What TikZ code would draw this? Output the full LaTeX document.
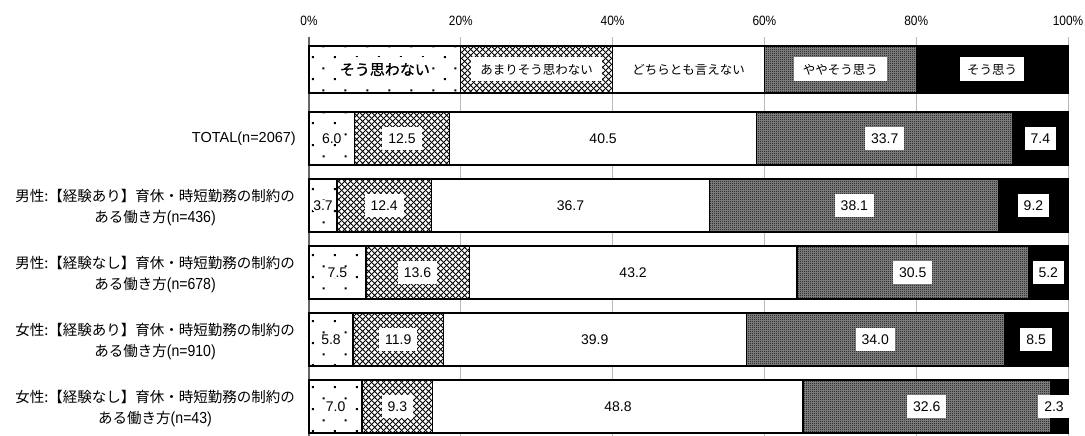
\documentclass[tikz,border=0pt]{standalone}
\usepackage{fontspec}
\setmainfont{Noto Sans CJK JP}
\newfontfamily\lat{Liberation Sans}
\newfontfamily\latn[FakeStretch=0.88]{Liberation Sans}
\newfontfamily\jpb[FakeBold=1.0]{Noto Sans CJK JP}
\usetikzlibrary{patterns}

\pgfdeclarepatternformonly{sparsedots}{\pgfqpoint{0pt}{0pt}}{\pgfqpoint{22pt}{22pt}}{\pgfqpoint{22pt}{22pt}}{%
 \pgfpathrectangle{\pgfqpoint{4pt}{4pt}}{\pgfqpoint{2pt}{2pt}}%
 \pgfpathrectangle{\pgfqpoint{15pt}{15pt}}{\pgfqpoint{2pt}{2pt}}%
 \pgfusepath{fill}}
\pgfdeclarepatternformonly{xdiamond}{\pgfqpoint{0pt}{0pt}}{\pgfqpoint{6pt}{6pt}}{\pgfqpoint{6pt}{6pt}}{%
 \pgfsetlinewidth{1.0pt}%
 \pgfpathmoveto{\pgfqpoint{-1pt}{-1pt}}\pgfpathlineto{\pgfqpoint{7pt}{7pt}}%
 \pgfpathmoveto{\pgfqpoint{-1pt}{7pt}}\pgfpathlineto{\pgfqpoint{7pt}{-1pt}}%
 \pgfusepath{stroke}}
\pgfdeclarepatternformonly{finecheck}{\pgfqpoint{0pt}{0pt}}{\pgfqpoint{2pt}{2pt}}{\pgfqpoint{2pt}{2pt}}{%
 \pgfpathrectangle{\pgfqpoint{0pt}{0pt}}{\pgfqpoint{1pt}{1pt}}%
 \pgfpathrectangle{\pgfqpoint{1pt}{1pt}}{\pgfqpoint{1pt}{1pt}}%
 \pgfusepath{fill}}

\newcommand\segs[6]{%
 \pgfmathsetmacro\ca{309+7.59*#3}%
 \pgfmathsetmacro\cb{\ca+7.59*#4}%
 \pgfmathsetmacro\cc{\cb+7.59*#5}%
 \pgfmathsetmacro\cd{\cc+7.59*#6}%
 \pgfmathsetmacro\yt{#1}%
 \pgfmathsetmacro\yb{#1+#2}%
 \pgfmathsetmacro\ym{#1+#2/2}%
 \pgfmathsetmacro\ma{(309+\ca)/2}%
 \pgfmathsetmacro\mb{(\ca+\cb)/2}%
 \pgfmathsetmacro\mc{(\cb+\cc)/2}%
 \pgfmathsetmacro\md{(\cc+\cd)/2}%
 \pgfmathsetmacro\me{min((\cd+1068)/2,1054)}%
 \fill[white] (309,\yt) rectangle (1068,\yb);
 \fill[pattern=sparsedots] (309,\yt) rectangle (\ca,\yb);
 \fill[pattern=xdiamond] (\ca,\yt) rectangle (\cb,\yb);
 \fill[black!45] (\cc,\yt) rectangle (\cd,\yb);
 \fill[pattern=finecheck] (\cc,\yt) rectangle (\cd,\yb);
 \fill[black] (\cd,\yt) rectangle (1068,\yb);
 \draw[seg] (309,\yt) rectangle (1068,\yb)
   (\ca,\yt) -- (\ca,\yb) (\cb,\yt) -- (\cb,\yb)
   (\cc,\yt) -- (\cc,\yb) (\cd,\yt) -- (\cd,\yb);
}
\newcommand\valrow[7]{%
 \segs{#2}{53}{#3}{#4}{#5}{#6}%
 \node[dlab] (#1a) at (\ma,\ym) {#3};
 \node[vlab] (#1b) at (\mb,\ym) {#4};
 \node[vlab,fill=none] (#1c) at (\mc,\ym) {#5};
 \node[vlab] (#1d) at (\md,\ym) {#6};
 \node[vlab] (#1e) at (\me,\ym) {#7};
}

\begin{document}
\begin{tikzpicture}[x=1pt,y=-1pt,
 seg/.style={draw=black,line width=1.3pt},
 vlab/.style={fill=white,font=\lat\fontsize{14}{16}\selectfont,inner xsep=6pt,inner ysep=0pt,minimum height=23pt},
 dlab/.style={fill=white,font=\lat\fontsize{14}{16}\selectfont,inner sep=0.5pt},
 leg/.style={fill=white,font=\fontsize{12.5}{14}\selectfont,inner xsep=9pt,inner ysep=0pt,minimum height=24pt},
 rlab/.style={anchor=east,align=center,inner sep=0pt,font=\fontsize{14.5}{21}\selectfont},
 rn/.style={},
 axl/.style={font=\latn\fontsize{13.5}{15}\selectfont,inner sep=0pt},
 gridl/.style={draw=gray!55,line width=0.9pt}]
\useasboundingbox (0,0) rectangle (1085,436);

% axis labels and grid
\foreach \k/\t in {0/0\%,1/20\%,2/40\%,3/60\%,4/80\%,5/100\%}{
  \node[axl] (ax\k) at ({309+151.8*\k},21) {\t};
}
\foreach \k in {1,...,5}{
  \draw[gridl] ({309+151.8*\k},37) -- ({309+151.8*\k},436);
}
\draw[draw=gray!80!black,line width=2pt] (309,37) -- (309,436);

% legend
\segs{46}{47}{20}{20}{20}{20}
\node[leg,inner xsep=2pt,font=\jpb\fontsize{15}{17}\selectfont] (lg1) at (\ma,\ym) {そう思わない};
\node[leg] (lg2) at (\mb,\ym) {あまりそう思わない};
\node[leg,fill=none] (lg3) at (\mc,\ym) {どちらとも言えない};
\node[leg] (lg4) at (\md,\ym) {ややそう思う};
\node[leg,inner xsep=7pt] (lg5) at (\me,\ym) {そう思う};

% data rows
\valrow{r1}{112}{6.0}{12.5}{40.5}{33.7}{7.4}
\valrow{r2}{179}{3.7}{12.4}{36.7}{38.1}{9.2}
\valrow{r3}{246}{7.5}{13.6}{43.2}{30.5}{5.2}
\valrow{r4}{313}{5.8}{11.9}{39.9}{34.0}{8.5}
\valrow{r5}{380}{7.0}{9.3}{48.8}{32.6}{2.3}

% row labels
\newcommand\nn[1]{{\latn\fontsize{16}{21}\selectfont #1}}
\node[rlab] (l1) at (296,139) {\lat TOTAL(n=2067)};
\node[rlab] (l2) at (295,208) {男性:【経験あり】育休・時短勤務の制約の\\ある働き方\nn{(n=436)}};
\node[rlab] (l3) at (295,275) {男性:【経験なし】育休・時短勤務の制約の\\ある働き方\nn{(n=678)}};
\node[rlab] (l4) at (295,342) {女性:【経験あり】育休・時短勤務の制約の\\ある働き方\nn{(n=910)}};
\node[rlab] (l5) at (295,409) {女性:【経験なし】育休・時短勤務の制約の\\ある働き方\nn{(n=43)}};
\end{tikzpicture}
\end{document}
